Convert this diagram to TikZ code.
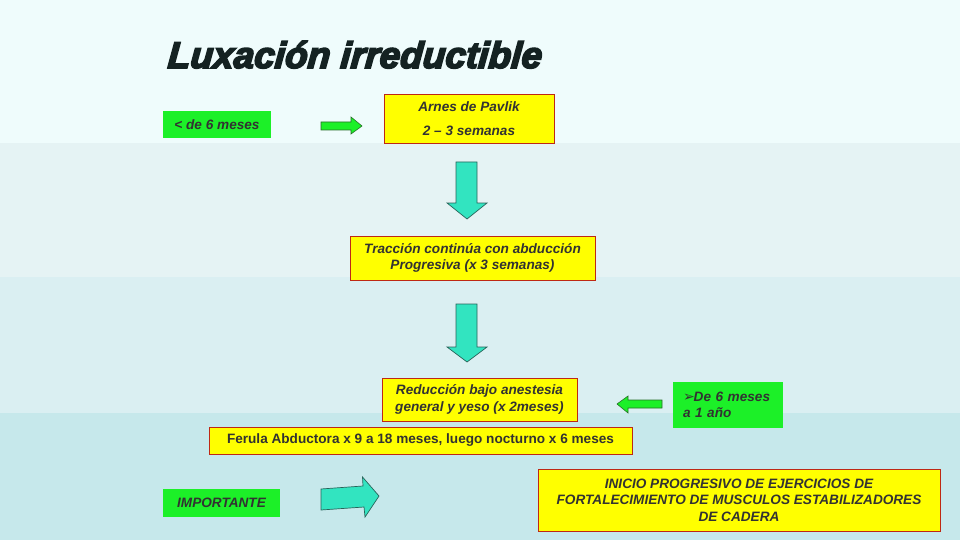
\documentclass[tikz,border=0pt]{standalone}
\usepackage{fontspec}
\setmainfont{Liberation Sans}
\newfontfamily\titlefont{Liberation Sans}[FakeBold=4.5,FakeSlant=0.08]
\newfontfamily\symfont{DejaVu Sans}
\definecolor{bandA}{RGB}{239,252,252}
\definecolor{bandB}{RGB}{229,243,244}
\definecolor{bandC}{RGB}{218,239,242}
\definecolor{bandD}{RGB}{198,232,235}
\definecolor{yfill}{RGB}{255,255,0}
\definecolor{yline}{RGB}{190,40,20}
\definecolor{gfill}{RGB}{28,240,40}
\definecolor{gline}{RGB}{40,110,40}
\definecolor{tfill}{RGB}{50,228,192}
\definecolor{tline}{RGB}{40,100,90}
\definecolor{txt}{RGB}{50,50,50}
\definecolor{ttl}{RGB}{20,34,34}
\tikzset{
  ybox/.style={fill=yfill, draw=yline, line width=0.8pt, text=txt, align=center, inner sep=0pt,
    font=\fontsize{13.6}{16.5}\selectfont\bfseries\itshape},
  gbox/.style={fill=gfill, text=txt, align=center, inner sep=0pt,
    font=\fontsize{13.6}{16.5}\selectfont\bfseries\itshape},
  garrow/.style={fill=gfill, draw=gline, line width=0.6pt, line join=miter},
  tarrow/.style={fill=tfill, draw=tline, line width=0.7pt, line join=miter},
}
\begin{document}
\begin{tikzpicture}[x=1pt,y=-1pt]
% background bands
\fill[bandA] (0,0) rectangle (960,143);
\fill[bandB] (0,143) rectangle (960,277);
\fill[bandC] (0,277) rectangle (960,413);
\fill[bandD] (0,413) rectangle (960,540);
\useasboundingbox (0,0) rectangle (960,540);

% title
\node[anchor=base west, inner sep=0pt, text=ttl, font=\titlefont\fontsize{37}{40}\selectfont\bfseries\itshape]
  (title) at (167,68) {Luxación irreductible};

% boxes
\node[gbox, minimum width=108pt, minimum height=27pt] (age1) at (217,124.5) {< de 6 meses};
\node[ybox, minimum width=170pt, minimum height=49pt, font=\fontsize{13.6}{24}\selectfont\bfseries\itshape]
  (arnes) at (469,118.5) {Arnes de Pavlik\\2 – 3 semanas};
\node[ybox, minimum width=245pt, minimum height=44pt] (trac) at (472.5,258)
  {Tracción continúa con abducción\\Progresiva (x 3 semanas)};
\node[ybox, minimum width=195pt, minimum height=43pt] (red) at (479.5,399.5)
  {Reducción bajo anestesia\\general y yeso (x 2meses)};
\node[ybox, minimum width=423pt, minimum height=27pt, font=\fontsize{13.6}{16.5}\selectfont\bfseries]
  (ferula) at (420.5,440.5) {Ferula Abductora x 9 a 18 meses, luego nocturno x 6 meses};
\node[gbox, minimum width=110pt, minimum height=46pt, text width=90pt, inner xsep=10pt, align=left]
  (age2) at (728,405) {{\symfont\fontsize{14}{14}\selectfont ➢}\hspace{-1pt}De 6 meses\\ a 1 año};
\node[gbox, minimum width=117pt, minimum height=28pt] (imp) at (221.5,503) {IMPORTANTE};
\node[ybox, minimum width=402pt, minimum height=62pt] (inicio) at (739,500)
  {INICIO PROGRESIVO DE EJERCICIOS DE\\FORTALECIMIENTO DE MUSCULOS ESTABILIZADORES\\DE CADERA};

% block arrows
\draw[garrow] (321,122) -- (351,122) -- (351,117) -- (362,126) -- (351,134) -- (351,130) -- (321,130) -- cycle;
\draw[tarrow] (456,162) -- (477,162) -- (477,203) -- (487,203) -- (467,219) -- (447,203) -- (456,203) -- cycle;
\draw[tarrow] (456,304) -- (477,304) -- (477,347) -- (487,347) -- (467,362) -- (447,347) -- (456,347) -- cycle;
\draw[garrow] (662,400) -- (628,400) -- (628,396) -- (617,404) -- (628,413) -- (628,408) -- (662,408) -- cycle;
\draw[tarrow] (321,489) -- (363,486) -- (362.5,477) -- (379,496) -- (365,517) -- (364,507) -- (321,510) -- cycle;
\end{tikzpicture}
\end{document}
